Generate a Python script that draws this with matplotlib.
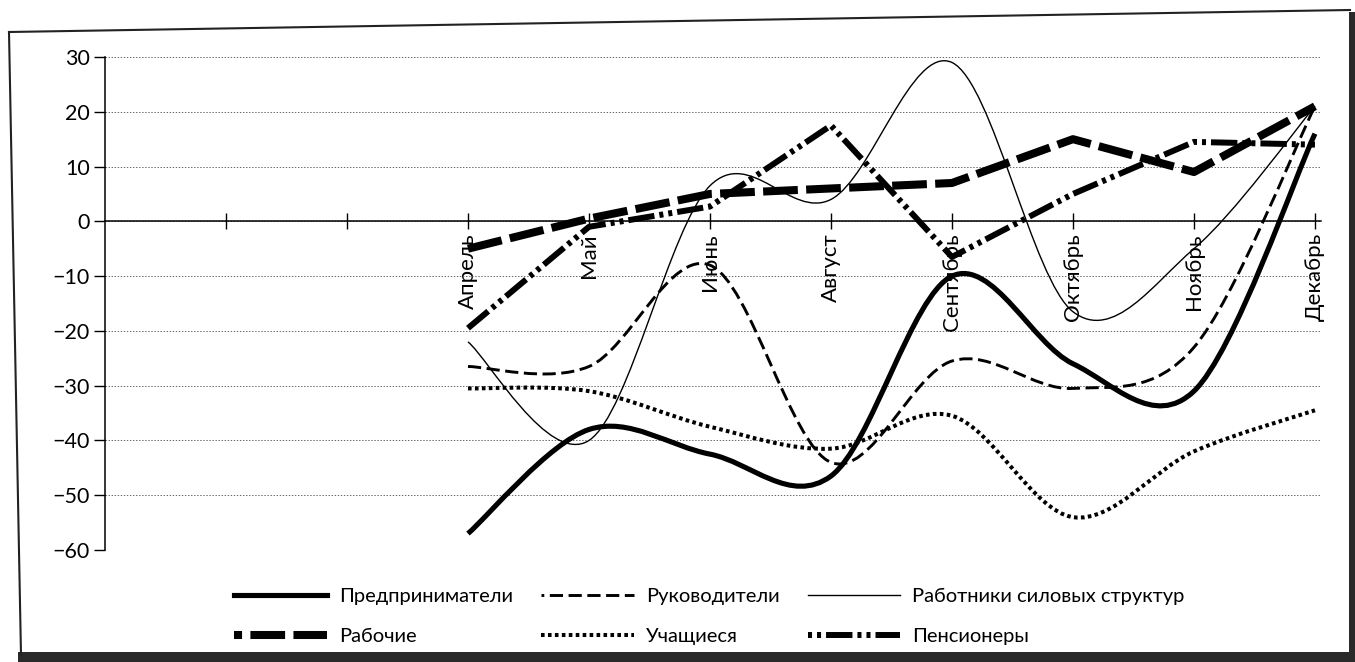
import numpy as np
import matplotlib
matplotlib.use("Agg")
import matplotlib.pyplot as plt
from matplotlib.path import Path
from matplotlib.patches import PathPatch, Rectangle
from matplotlib.lines import Line2D

plt.rcParams['font.family'] = ['Lato', 'DejaVu Sans']
plt.rcParams['lines.scale_dashes'] = False

# ---------------- data ----------------
categories = ['', '', 'Апрель', 'Май', 'Июнь', 'Август', 'Сентябрь', 'Октябрь', 'Ноябрь', 'Декабрь']
months = categories[2:]

predprinimateli = [-57, -38, -42.5, -46.5, -10, -26, -31, 16]      # smooth, thick solid
rukovoditeli = [-26.5, -26.5, -8, -44, -25.5, -30.5, -23, 21]       # smooth, dashed
silovye = [-22, -40, 6.5, 4, 29, -16.5, -5, 21]                     # smooth, thin solid
uchashchiesya = [-30.5, -31, -37.5, -41.5, -35.5, -54, -42, -34.5]  # smooth, dotted
rabochie = [-5, 0.5, 5, 6, 7, 15, 9, 21]                            # straight, heavy dashes
pensionery = [-19.5, -1, 2.7, 17.5, -6.5, 5, 14.5, 14]              # straight, dash-dot-dot

yticks = [-60, -50, -40, -30, -20, -10, 0, 10, 20, 30]

# ---------------- helpers ----------------
def smooth_path(xs, ys):
    pts = np.column_stack([xs, ys]).astype(float)
    n = len(pts)
    verts = [pts[0]]
    codes = [Path.MOVETO]
    for i in range(n - 1):
        p0 = pts[i - 1] if i > 0 else pts[i]
        p1 = pts[i]
        p2 = pts[i + 1]
        p3 = pts[i + 2] if i + 2 < n else pts[i + 1]
        c1 = p1 + (p2 - p0) / 6.0
        c2 = p2 - (p3 - p1) / 6.0
        verts += [c1, c2, p2]
        codes += [Path.CURVE4] * 3
    return Path(verts, codes)

W, H = 1355, 662
def fx(px):
    return px / W
def fy(py):
    return 1 - py / H

# ---------------- figure ----------------
fig = plt.figure(figsize=(W / 100, H / 100), dpi=100)
fig.patch.set_facecolor('white')

ax_left, ax_top, ax_bottom = 105, 57, 550
ax = fig.add_axes([fx(ax_left), fy(ax_bottom), 1216 / W, (ax_bottom - ax_top) / H])

positions = np.arange(1, len(categories) + 1)
xm = positions[2:]

ax.set_xlim(0, 10.05)
ax.set_ylim(-60, 30)

for s in ['top', 'right']:
    ax.spines[s].set_visible(False)
ax.spines['bottom'].set_position(('data', 0))
ax.spines['bottom'].set_linewidth(1.1)
ax.spines['left'].set_linewidth(1.1)

ax.set_yticks(yticks)
ax.set_yticklabels([f"{v}".replace('-', '\u2212') for v in yticks])
ax.yaxis.grid(True, linestyle=(0, (1.0, 1.2)), color='#666666', linewidth=0.7)
ax.set_axisbelow(True)
ax.tick_params(axis='y', direction='out', length=8, width=1, pad=3, labelsize=15.5)

ax.set_xticks(positions)
ax.set_xticklabels(categories, rotation=90)
ax.tick_params(axis='x', direction='inout', length=11, width=1, pad=3, labelsize=16)

# smooth series
lw_pred, lw_ruk, lw_sil, lw_uch = 3.7, 2.1, 1.0, 2.9
ls_ruk = (0, (9.5, 4.0))
ls_uch = (0, (2.6, 2.4))
ls_rab = (0, (25, 6))
ls_pen = (0, (19, 3.6, 2.9, 3.6, 2.9, 3.6))
lw_rab, lw_pen = 5.8, 4.3

smooth_specs = [
    (predprinimateli, lw_pred, '-'),
    (rukovoditeli, lw_ruk, ls_ruk),
    (silovye, lw_sil, '-'),
    (uchashchiesya, lw_uch, ls_uch),
]
for ys, lw, ls in smooth_specs:
    patch = PathPatch(smooth_path(xm, ys), fill=False, edgecolor='black',
                      linewidth=lw, linestyle=ls, capstyle='butt', joinstyle='round')
    ax.add_patch(patch)

ax.plot(xm, rabochie, color='black', lw=lw_rab, linestyle=ls_rab,
        dash_capstyle='butt', solid_joinstyle='miter')
ax.plot(xm, pensionery, color='black', lw=lw_pen, linestyle=ls_pen,
        dash_capstyle='butt', solid_joinstyle='miter')

# ---------------- legend ----------------
h_pred = Line2D([], [], color='black', lw=lw_pred)
h_ruk = Line2D([], [], color='black', lw=lw_ruk, linestyle=(7.5, (9.5, 4.0)), dash_capstyle='butt')
h_sil = Line2D([], [], color='black', lw=lw_sil)
h_rab = Line2D([], [], color='black', lw=lw_rab, linestyle=(19.2, (25, 6)), dash_capstyle='butt')
h_uch = Line2D([], [], color='black', lw=lw_uch, linestyle=ls_uch, dash_capstyle='butt')
h_pen = Line2D([], [], color='black', lw=lw_pen, linestyle=(22.6, (19, 3.6, 2.9, 3.6, 2.9, 3.6)),
               dash_capstyle='butt')

handles = [h_pred, h_rab, h_ruk, h_uch, h_sil, h_pen]
labels = ['Предприниматели', 'Рабочие', 'Руководители', 'Учащиеся',
          'Работники силовых структур', 'Пенсионеры']
fig.legend(handles, labels, ncol=3, loc='upper left',
           bbox_to_anchor=(fx(224), fy(578)), frameon=False, borderpad=0,
           handlelength=4.6, handletextpad=0.6, columnspacing=1.4,
           labelspacing=1.15, fontsize=14.5)

# ---------------- scan frame ----------------
frame_kw = dict(transform=fig.transFigure, color='#222222', lw=1.5)
fig.add_artist(Line2D([fx(9), fx(1350)], [fy(32), fy(10)], **frame_kw))
fig.add_artist(Line2D([fx(9), fx(21)], [fy(32), fy(655)], **frame_kw))
fig.add_artist(Rectangle((fx(18), 0), 1, fy(652), transform=fig.transFigure,
                         facecolor='#2a2a2a', edgecolor='none'))
fig.add_artist(Rectangle((fx(1349), 0), 1, fy(12), transform=fig.transFigure,
                         facecolor='#2a2a2a', edgecolor='none'))

fig.savefig('out.png', dpi=100)
